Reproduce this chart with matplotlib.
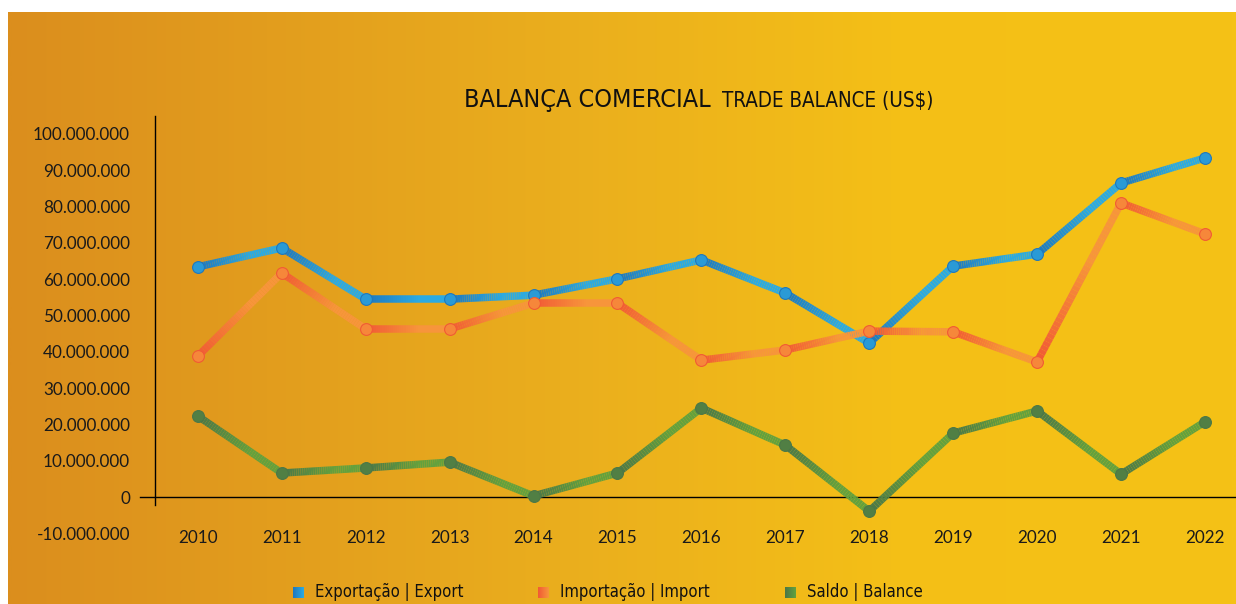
import numpy as np
import matplotlib
matplotlib.use("Agg")
import matplotlib.pyplot as plt
from matplotlib.collections import LineCollection
from matplotlib.colors import LinearSegmentedColormap, to_rgb
from matplotlib.ticker import FuncFormatter

# dados (US$)
anos = [2010, 2011, 2012, 2013, 2014, 2015, 2016, 2017, 2018, 2019, 2020, 2021, 2022]
exportacao = [63.4e6, 68.6e6, 54.5e6, 54.5e6, 55.6e6, 60.1e6, 65.3e6, 56.2e6,
              42.4e6, 63.6e6, 66.9e6, 86.5e6, 93.4e6]
importacao = [38.8e6, 61.7e6, 46.3e6, 46.3e6, 53.4e6, 53.4e6, 37.7e6, 40.5e6,
              45.7e6, 45.5e6, 37.2e6, 81.0e6, 72.5e6]
saldo = [22.3e6, 6.6e6, 8.0e6, 9.6e6, 0.3e6, 6.6e6, 24.5e6, 14.3e6,
         -3.9e6, 17.6e6, 23.7e6, 6.3e6, 20.7e6]
series_nomes = ["Exportação | Export", "Importação | Import", "Saldo | Balance"]
yticks = list(range(-10_000_000, 100_000_001, 10_000_000))

NARROW = ["DejaVu Sans"]
LABEL = ["Lato", "DejaVu Sans"]

# cores (escuro -> claro em cada segmento)
cores = {
    "exp": ("#1E78BE", "#2BAAE2", "#2A9AD6"),
    "imp": ("#F15A35", "#F7953B", "#F6873A"),
    "sal": ("#4B7748", "#63A13E", "#517F44"),
}

W, H = 1236, 604
fig = plt.figure(figsize=(W / 100, H / 100), dpi=100, facecolor="white")

# fundo em degradê
bg = fig.add_axes([8 / W, 0, 1 - 8 / W, 1 - 12 / H])
bg_cmap = LinearSegmentedColormap.from_list(
    "bg", [(0, "#DB8E1D"), (0.45, "#EAAE1E"), (0.72, "#F4BF17"), (1, "#F5C216")])
bg.imshow(np.linspace(0, 1, 512)[None, :], aspect="auto", cmap=bg_cmap,
          extent=[0, 1, 0, 1])
bg.set_axis_off()

# eixo principal
px_per_10m = 36.3
y0_pix = 497
ytop, ybot = 105e6, -13e6
top_pix = y0_pix - ytop / 1e7 * px_per_10m
bot_pix = y0_pix - ybot / 1e7 * px_per_10m
ax = fig.add_axes([155 / W, 1 - bot_pix / H, 1 - 155 / W, (bot_pix - top_pix) / H])
ax.patch.set_alpha(0)
ax.set_xlim(2009.49, 2022.37)
ax.set_ylim(ybot, ytop)


def blend(c1, c2, t):
    a, b = np.array(to_rgb(c1)), np.array(to_rgb(c2))
    return tuple(a + (b - a) * t)


def linha_degrade(x, y, escuro, claro, meio, z):
    t = np.linspace(0, 1, 41)
    for i in range(len(x) - 1):
        xs = x[i] + (x[i + 1] - x[i]) * t
        ys = y[i] + (y[i + 1] - y[i]) * t
        pts = np.column_stack([xs, ys]).reshape(-1, 1, 2)
        segs = np.concatenate([pts[:-1], pts[1:]], axis=1)
        cols = [blend(escuro, claro, min(1, tt * 1.6)) for tt in t[:-1]]
        ax.add_collection(LineCollection(segs, colors=cols, linewidths=5.4,
                                         capstyle="butt", zorder=z))
    ax.plot(x, y, linestyle="none", marker="o", markersize=8.5,
            markerfacecolor=meio, markeredgecolor=escuro, markeredgewidth=0.8,
            zorder=z + 0.5)


linha_degrade(anos, saldo, *cores["sal"], z=3)
linha_degrade(anos, exportacao, *cores["exp"], z=4)
linha_degrade(anos, importacao, *cores["imp"], z=5)

# eixos
for s in ["top", "right", "bottom"]:
    ax.spines[s].set_visible(False)
ax.spines["left"].set_bounds(-2.2e6, ytop)
ax.spines["left"].set_color("black")
ax.spines["left"].set_linewidth(1)
ax.axhline(0, xmin=-0.014, xmax=1, color="black", lw=1, clip_on=False, zorder=2)

ax.set_yticks(yticks)
ax.yaxis.set_major_formatter(FuncFormatter(lambda v, p: f"{v:,.0f}".replace(",", ".")))
ax.set_xticks(anos)
ax.set_xticklabels([str(a) for a in anos])
ax.tick_params(axis="y", length=0, pad=18, labelsize=12.3, labelcolor="#1a1a1a")
ax.tick_params(axis="x", length=0, pad=-10, labelsize=12.3, labelcolor="#1a1a1a")
for lab in ax.get_xticklabels() + ax.get_yticklabels():
    lab.set_family(LABEL)

# título
fig.text(464 / W, 1 - 107 / H, "BALANÇA COMERCIAL", family=NARROW,
         stretch="condensed", fontsize=18, ha="left", va="baseline", color="#111111")
fig.text(722 / W, 1 - 107 / H, "TRADE BALANCE (US$)", family=NARROW,
         stretch="condensed", fontsize=14.8, ha="left", va="baseline", color="#111111")

# legenda
leg_x = [293, 538, 785]
for nome, key, lx in zip(series_nomes, ["exp", "imp", "sal"], leg_x):
    escuro, claro, _ = cores[key]
    sq = fig.add_axes([lx / W, 1 - 598 / H, 11 / W, 11 / H])
    sq_cmap = LinearSegmentedColormap.from_list("sq", [escuro, claro])
    sq.imshow(np.linspace(0, 1, 20)[None, :], aspect="auto", cmap=sq_cmap)
    sq.set_axis_off()
    fig.text((lx + 22) / W, 1 - 592 / H, nome, family=NARROW, stretch="condensed",
             fontsize=12, ha="left", va="center", color="#111111")

fig.savefig("out.png", dpi=100, facecolor="white")
